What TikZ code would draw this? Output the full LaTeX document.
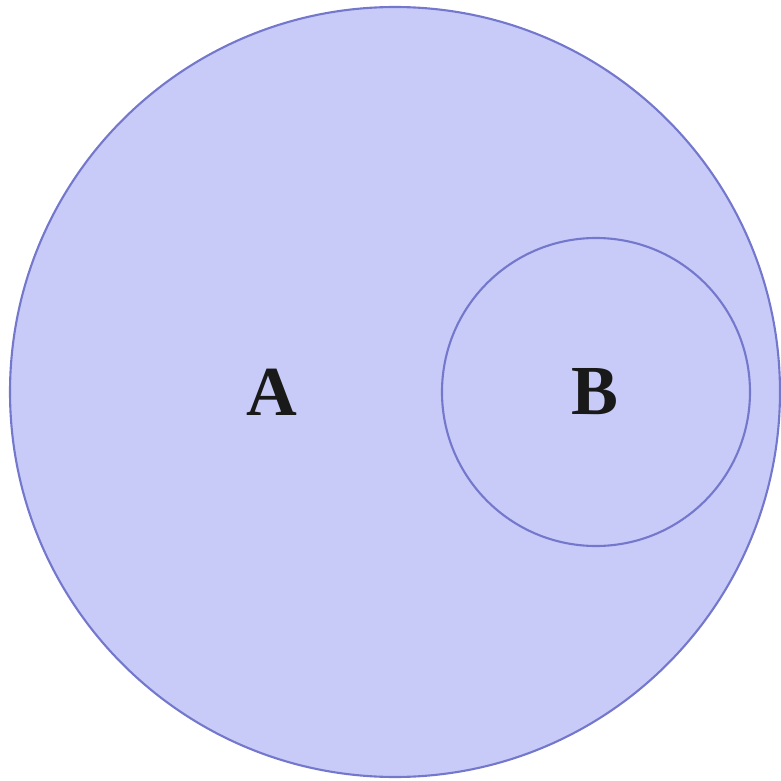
\documentclass[tikz,border=0pt]{standalone}
\usepackage{fontspec}
\setmainfont{Liberation Serif}
\usepackage{xcolor}
\usetikzlibrary{positioning}
\definecolor{setfill}{HTML}{C8CBF8}
\definecolor{setline}{HTML}{7478CC}
\tikzset{
  setc/.style={circle, draw=setline, fill=setfill, line width=0.6pt,
    inner sep=0pt},
  lbl/.style={font=\fontsize{20}{24}\selectfont\bfseries, text=black!90,
    inner sep=0pt}
}
\begin{document}
\begin{tikzpicture}
\useasboundingbox (0,0) rectangle (7.81,7.81);
\node[setc, minimum size=7.70cm] (a) at (3.95,3.89) {};
\node[setc, minimum size=3.08cm] (b) at (5.96,3.89) {};

\node[lbl] (la) at (2.72,3.89) {A};
\node[lbl] (lb) at (5.95,3.89) {B};
\end{tikzpicture}
\end{document}
